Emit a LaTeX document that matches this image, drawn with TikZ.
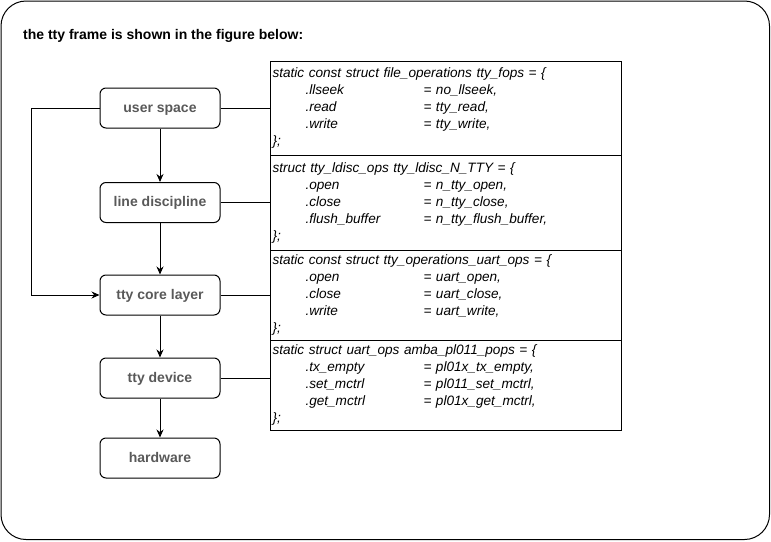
\documentclass[tikz,border=0pt]{standalone}
\usepackage{fontspec}
\setmainfont{Liberation Sans}
\usetikzlibrary{arrows.meta,calc}
\definecolor{labelgray}{HTML}{595959}
\tikzset{
  layer/.style={draw=black, line width=1pt, rounded corners=6pt, minimum width=120pt, minimum height=40pt,
    inner sep=0pt, text height=11pt, text depth=3pt, text=labelgray, font=\fontsize{14}{17}\selectfont\bfseries},
  codebox/.style={draw=black, line width=1pt, anchor=north west, text width=347pt, inner xsep=2pt,
    inner ysep=0pt, align=left, font=\fontsize{13.6}{17}\selectfont\itshape},
  conn/.style={line width=1pt, draw=black},
  arr/.style={conn, -{Stealth[length=8pt,width=7pt]}},
}
\newcommand{\codetab}[5]{%
  \begin{tabular}{@{}p{33pt}@{}p{118pt}@{}l@{}}
  \multicolumn{3}{@{}l@{}}{#1}\\
  #2\\
  #3\\
  #4\\
  \multicolumn{3}{@{}l@{}}{#5}
  \end{tabular}}
\begin{document}
\begin{tikzpicture}[x=1pt,y=-1pt]
\useasboundingbox (0,0) rectangle (771,541);
\draw[line width=1pt, rounded corners=25pt] (1,1) rectangle (769.5,539.5);
\node[anchor=west, font=\fontsize{14}{17}\selectfont\bfseries, inner sep=0pt] (title) at (23,36) {the tty frame is shown in the figure below:};

\node[layer] (us) at (160,108) {user space};
\node[layer] (ld) at (160,202.5) {line discipline};
\node[layer] (core) at (160,295) {tty core layer};
\node[layer] (dev) at (160,378) {tty device};
\node[layer] (hw) at (160,458) {hardware};

\node[codebox, minimum height=94pt] (c1) at (270,61) {\codetab
  {static const struct file\_operations tty\_fops = \{}
  {& .llseek & = no\_llseek,}
  {& .read & = tty\_read,}
  {& .write & = tty\_write,}
  {\};}};
\node[codebox, minimum height=95pt] (c2) at (270,155) {\codetab
  {struct tty\_ldisc\_ops tty\_ldisc\_N\_TTY = \{}
  {& .open & = n\_tty\_open,}
  {& .close & = n\_tty\_close,}
  {& .flush\_buffer & = n\_tty\_flush\_buffer,}
  {\};}};
\node[codebox, minimum height=90pt] (c3) at (270,250) {\codetab
  {static const struct tty\_operations\_uart\_ops = \{}
  {& .open & = uart\_open,}
  {& .close & = uart\_close,}
  {& .write & = uart\_write,}
  {\};}};
\node[codebox, minimum height=90pt] (c4) at (270,340) {\codetab
  {static struct uart\_ops amba\_pl011\_pops = \{}
  {& .tx\_empty & = pl01x\_tx\_empty,}
  {& .set\_mctrl & = pl011\_set\_mctrl,}
  {& .get\_mctrl & = pl01x\_get\_mctrl,}
  {\};}};

\draw[arr] (us) -- (ld);
\draw[arr] (ld) -- (core);
\draw[arr] (core) -- (dev);
\draw[arr] (dev) -- (hw);
\draw[arr] (us.west) -- (31,108) -- (31,295) -- (core.west);

\draw[conn] (us.east) -- (us.east -| c1.west);
\draw[conn] (ld.east) -- (ld.east -| c2.west);
\draw[conn] (core.east) -- (core.east -| c3.west);
\draw[conn] (dev.east) -- (dev.east -| c4.west);
\end{tikzpicture}
\end{document}
